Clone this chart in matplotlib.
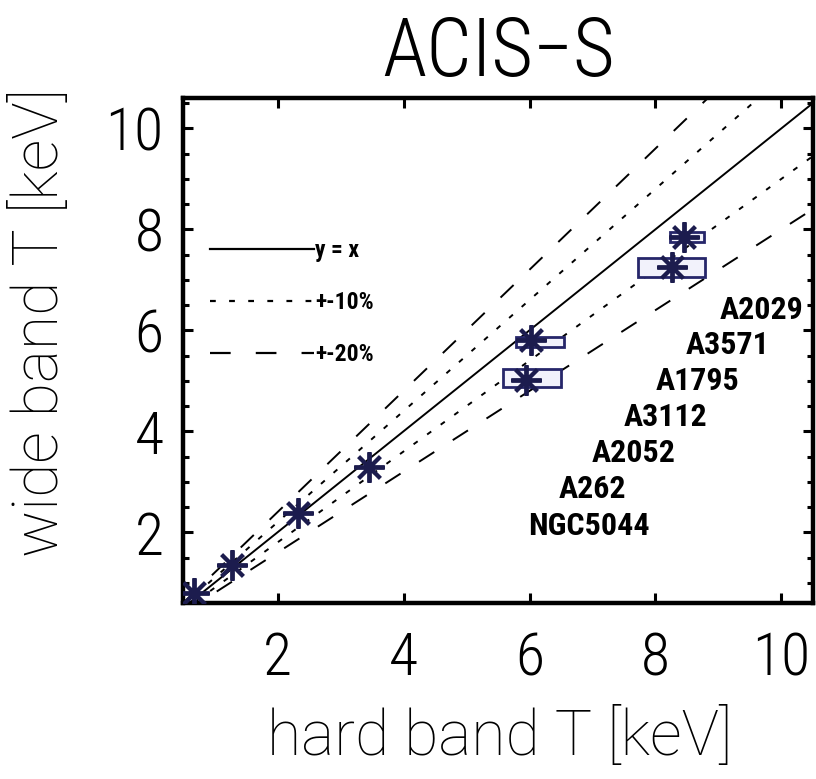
import numpy as np
import matplotlib.pyplot as plt
from matplotlib.lines import Line2D
from matplotlib.patches import Rectangle

# hard band vs wide band temperatures [keV]
t_hard = [0.68, 1.28, 2.33, 3.45, 6.02, 5.94, 8.45, 8.26]
t_wide = [0.80, 1.35, 2.38, 3.29, 5.81, 5.02, 7.85, 7.25]
# error boxes (lower / upper edges), zero width -> no box drawn
hard_lo = [0.68, 1.28, 2.33, 3.45, 5.78, 5.58, 8.23, 7.72]
hard_hi = [0.68, 1.28, 2.33, 3.45, 6.54, 6.50, 8.77, 8.78]
wide_lo = [0.80, 1.35, 2.38, 3.29, 5.67, 4.87, 7.75, 7.06]
wide_hi = [0.80, 1.35, 2.38, 3.29, 5.87, 5.23, 7.95, 7.43]

names = ["A2029", "A3571", "A1795", "A3112", "A2052", "A262", "NGC5044"]
slopes = [1.0, 1.1, 0.9, 1.2, 0.8]
legend_labels = ["y = x", "+-10%", "+-20%"]
xticks = [2, 4, 6, 8, 10]

# where the cluster names sit (data coords)
label_pos = [(9.69, 6.40), (9.15, 5.71), (8.67, 4.99), (8.16, 4.28),
             (7.65, 3.57), (7.00, 2.86), (6.94, 2.12)]

narrow = ["Roboto Condensed", "Liberation Sans", "DejaVu Sans"]
normal = ["Roboto", "Liberation Sans", "DejaVu Sans"]

dot = (0, (2.6, 6.0))
dash = (0, (9.3, 11.3))
styles = ["-", dot, dot, dash, dash]

fig = plt.figure(figsize=(8.16, 7.79), dpi=100)
ax = fig.add_axes([0.2243, 0.2259, 0.772, 0.6483])
ax.set_xlim(0.5, 10.5)
ax.set_ylim(0.6, 10.6)

xl = np.array([0.5, 10.5])
for k, ls in zip(slopes, styles):
    ax.plot(xl, k * xl, color="black", lw=1.4, ls=ls, zorder=2)

navy = "#1c1c4e"
for i in range(len(t_hard)):
    w = hard_hi[i] - hard_lo[i]
    h = wide_hi[i] - wide_lo[i]
    if w > 0:
        ax.add_patch(Rectangle((hard_lo[i], wide_lo[i]), w, h, facecolor="#f2f2fb",
                               edgecolor="#26266a", lw=2, zorder=3))
ax.plot(t_hard, t_wide, ls="none", marker=(8, 2, 0), ms=22, mew=2.8,
        color=navy, zorder=4)

for name, (px, py) in zip(names, label_pos):
    ax.text(px, py, name, ha="center", va="center", fontsize=23,
            fontweight="bold", family=narrow, zorder=5)

handles = [Line2D([], [], color="black", lw=1.6, ls=s) for s in ["-", dot, dash]]
leg = ax.legend(handles, legend_labels, loc="upper left", bbox_to_anchor=(0.043, 0.72),
                frameon=False, handlelength=4.4, handletextpad=0.05, labelspacing=1.22,
                borderpad=0, borderaxespad=0,
                prop={"family": narrow, "weight": "bold", "size": 17})

for s in ax.spines.values():
    s.set_linewidth(3.2)
ax.set_xticks(xticks)
ax.set_yticks(xticks)
ax.set_yticks(np.arange(1.0, 10.6, 0.5), minor=True)
ax.tick_params(which="both", direction="in", top=True, right=True, width=2.2)
ax.tick_params(which="major", length=7)
ax.tick_params(which="minor", length=4)
ax.tick_params(axis="x", pad=20)
ax.tick_params(axis="y", pad=14)
for lab in ax.get_xticklabels() + ax.get_yticklabels():
    lab.set_family(narrow)
    lab.set_fontweight("light")
    lab.set_fontsize(43)

ax.set_title("ACIS\u2212S", family=narrow, fontweight="light", fontsize=58, pad=16)
ax.set_xlabel("hard band T [keV]", family=normal, fontweight="light", fontsize=45)
ax.set_ylabel("wide band T [keV]", family=normal, fontweight="light", fontsize=45)
ax.xaxis.set_label_coords(0.503, -0.267)
ax.xaxis.label.set_va("center")
ax.yaxis.set_label_coords(-0.226, 0.556)
ax.yaxis.label.set_va("center")

fig.savefig("out.png", dpi=100)
